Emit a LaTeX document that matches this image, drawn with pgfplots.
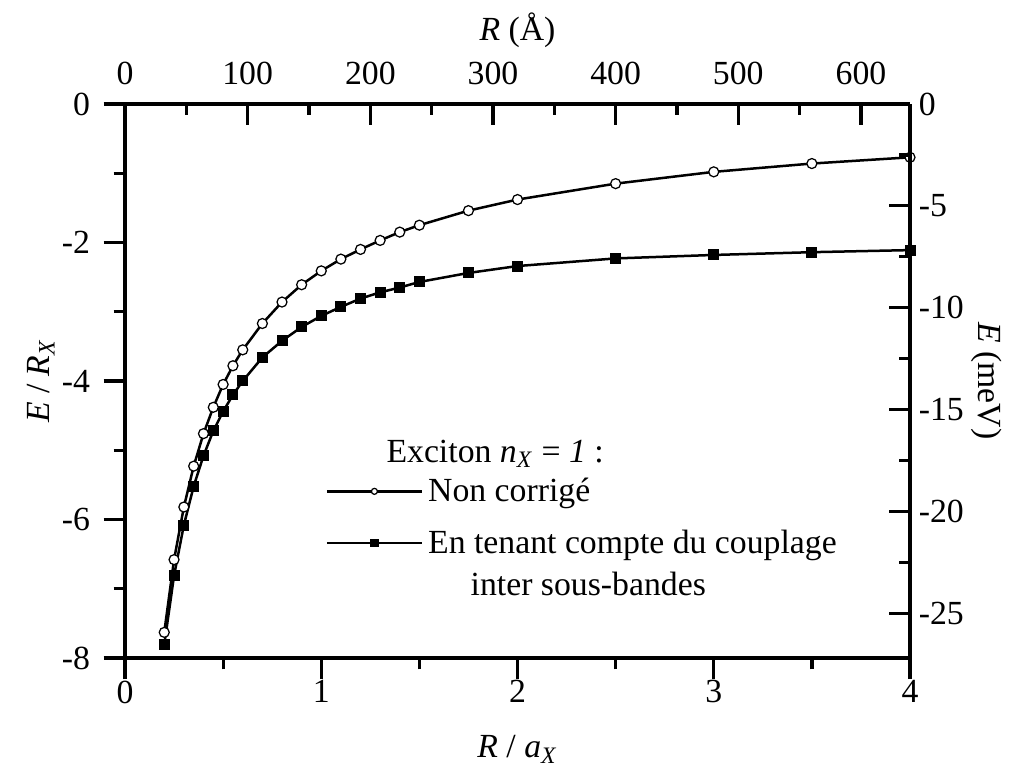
\documentclass[border=0pt]{standalone}
\usepackage{fontspec}
\setmainfont{Liberation Serif}
\usepackage{pgfplots}
\pgfplotsset{compat=1.18}

% exciton n_X = 1 : without and with inter-subband coupling
\pgfplotstableread{
x     E
0.20  -7.63
0.25  -6.58
0.30  -5.82
0.35  -5.23
0.40  -4.76
0.45  -4.38
0.50  -4.05
0.55  -3.78
0.60  -3.55
0.70  -3.17
0.80  -2.86
0.90  -2.61
1.00  -2.41
1.10  -2.24
1.20  -2.10
1.30  -1.97
1.40  -1.85
1.50  -1.75
1.75  -1.54
2.00  -1.38
2.50  -1.15
3.00  -0.98
3.50  -0.86
4.00  -0.77
}\noncorr
\pgfplotstableread{
x     E
0.20  -7.81
0.25  -6.81
0.30  -6.08
0.35  -5.52
0.40  -5.08
0.45  -4.72
0.50  -4.44
0.55  -4.20
0.60  -4.00
0.70  -3.66
0.80  -3.42
0.90  -3.22
1.00  -3.06
1.10  -2.93
1.20  -2.81
1.30  -2.72
1.40  -2.65
1.50  -2.57
1.75  -2.44
2.00  -2.34
2.50  -2.23
3.00  -2.18
3.50  -2.14
4.00  -2.11
}\couplage

\pgfplotsset{
  frame/.style={
    scale only axis, width=314pt, height=221.6pt,
    font=\fontsize{13.5}{16}\selectfont,
    /pgf/number format/assume math mode=true,
    axis line style={line width=1.5pt},
    tick style={line width=1.3pt, black},
    major tick length=8.5pt, minor tick length=4.6pt,
  },
}

\begin{document}
\begin{tikzpicture}
\begin{axis}[frame,
  xmin=0, xmax=4, ymin=-8, ymax=0,
  axis x line*=bottom, axis y line*=left,
  tick align=outside,
  xtick={0,1,2,3,4}, minor xtick={0.5,1.5,2.5,3.5},
  ytick={-8,-6,-4,-2,0}, minor ytick={-7,-5,-3,-1},
  xticklabel style={yshift=3pt},
  yticklabel style={xshift=-2pt},
  xlabel={\textit{R} / \textit{a}\textsubscript{\textit{X}}},
  xlabel style={yshift=-6pt},
  ylabel={\textit{E} / \textit{R}\textsubscript{\textit{X}}},
  ylabel style={yshift=-4pt},
  legend style={draw=none, fill=none, at={(0.255,0.335)}, anchor=north west,
    cells={anchor=base west}, row sep=4pt, inner sep=0pt},
  legend image code/.code={%
    \draw[#1, mark repeat=2, mark phase=2, mark size=1.2pt]
      plot coordinates {(0pt,4pt)(19pt,4pt)(38pt,4pt)};},
]
\addplot[black, line width=1pt, mark=*, mark size=2pt,
  mark options={fill=white, draw=black, line width=0.5pt}] table {\noncorr};
\addlegendentry{Non corrigé}
\addplot[black, line width=1pt, mark=square*, mark size=1.7pt,
  mark options={fill=black}] table {\couplage};
\addlegendentry{\begin{tabular}[t]{@{}l@{}}En tenant compte du couplage\\[1pt]\hspace*{17pt}inter sous-bandes\end{tabular}}
\node[anchor=base west, inner sep=0pt, font=\fontsize{13.5}{16}\selectfont]
  at (axis cs:1.33,-5.17)
  {Exciton \textit{n}\textsubscript{\textit{X}} = \textit{1} :};
\coordinate (sw) at (rel axis cs:0,0);
\coordinate (ne) at (rel axis cs:1,1);
\end{axis}
\begin{axis}[frame,
  xmin=0, xmax=640, ymin=-27.2, ymax=0,
  axis x line*=top, axis y line*=right,
  tick align=inside,
  xtick={0,100,...,600}, minor xtick={50,150,...,650},
  ytick={-25,-20,...,0}, minor ytick={-22.5,-17.5,...,-2.5},
  xticklabel style={yshift=4pt},
  xlabel={\textit{R} (Å)},
  xlabel style={yshift=-1pt},
  ylabel={\textit{E} (meV)},
  ylabel style={rotate=180},
  ylabel shift=-4pt,
]
\addplot[draw=none] coordinates {(0,0)};
\end{axis}
\pgfresetboundingbox
\path ([shift={(-50pt,-48pt)}]sw) rectangle ([shift={(41.6pt,41.6pt)}]ne);
\end{tikzpicture}
\end{document}
